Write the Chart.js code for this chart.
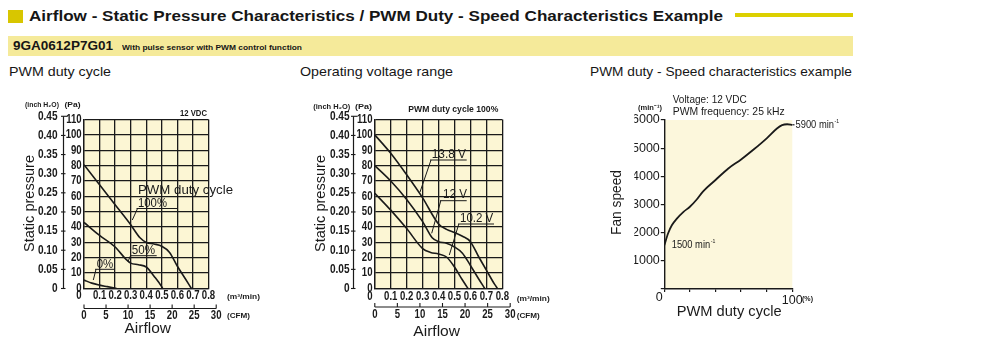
<!DOCTYPE html>
<html><head><meta charset="utf-8">
<script src="https://cdn.jsdelivr.net/npm/chart.js@4.4.1/dist/chart.umd.min.js"></script>
<style>
html,body{margin:0;padding:0;background:#fff;width:1000px;height:342px;overflow:hidden;}
body{position:relative;font-family:"Liberation Sans",Arial,sans-serif;}
canvas{position:absolute;left:0;top:0;}
.t{position:absolute;white-space:nowrap;line-height:1;color:#161616;transform-origin:0 50%;}
</style></head><body>
<div style="position:absolute;left:8px;top:10px;width:15px;height:13px;background:#d8c600"></div>
<div style="position:absolute;left:735px;top:13px;width:118px;height:4px;background:#dcd000"></div>
<div style="position:absolute;left:8px;top:36px;width:845px;height:20px;background:#f5ea9a"></div>
<span class="t" data-x="29" data-cy="16.5" data-s="14.5" data-w="694" style="font-weight:bold">Airflow - Static Pressure Characteristics / PWM Duty - Speed Characteristics Example</span>
<span class="t" data-x="13" data-cy="46" data-s="12.5" data-w="100" style="font-weight:bold">9GA0612P7G01</span>
<span class="t" data-x="122" data-cy="47.5" data-s="7.5" data-w="180" style="font-weight:bold">With pulse sensor with PWM control function</span>
<span class="t" data-x="8.5" data-cy="71.5" data-s="13.5" data-w="102">PWM duty cycle</span>
<span class="t" data-x="300" data-cy="71.5" data-s="13.5" data-w="153">Operating voltage range</span>
<span class="t" data-x="590" data-cy="72" data-s="13.5" data-w="262">PWM duty - Speed characteristics example</span>
<canvas id="c1" width="1000" height="342"></canvas>
<canvas id="c2" width="1000" height="342"></canvas>
<canvas id="c3" width="1000" height="342"></canvas>
<script>
// ---------------- data ----------------
// Chart 1: PWM duty cycle (12 VDC) — [airflow m3/min, static pressure Pa]
const pwm100 = [[0,80.5],[0.1,67.5],[0.2,54.5],[0.3,41.5],[0.36,33],[0.4,30],[0.45,29],[0.5,27.5],[0.55,23.5],[0.6,14.5],[0.65,6.5],[0.69,0]];
const pwm50  = [[0,43],[0.1,34.5],[0.2,27],[0.27,19],[0.3,16.5],[0.35,15.5],[0.4,14],[0.45,8],[0.5,1],[0.505,0]];
const pwm0   = [[0,5.5],[0.05,3.5],[0.1,2.2],[0.15,1.2],[0.21,0]];
// Chart 2: operating voltage range (PWM 100%)
const volt138 = [[0,100],[0.1,88],[0.2,74],[0.3,59],[0.4,42],[0.45,38.5],[0.5,36.5],[0.55,34],[0.6,30.5],[0.65,21],[0.7,12],[0.75,3],[0.77,0]];
const volt120 = [[0,80],[0.1,70],[0.2,58],[0.3,43.5],[0.36,33],[0.4,30.5],[0.45,29.5],[0.5,27],[0.55,23],[0.6,15],[0.65,6.5],[0.69,0]];
const volt102 = [[0,62],[0.1,51],[0.2,39],[0.3,26],[0.35,23.5],[0.4,22.5],[0.45,20.5],[0.5,14],[0.55,5.5],[0.585,0]];
// Chart 3: PWM duty (%) -> fan speed (min-1)
const dutyPct  = [0,3,6,10,15,20,25,30,40,50,60,70,80,88,92,96,100];
const speedRpm = [1550,1980,2270,2510,2740,2920,3160,3450,3870,4280,4600,4960,5350,5700,5820,5850,5830];
// tick labels
const flowLabels = ['0','0.1','0.2','0.3','0.4','0.5','0.6','0.7','0.8'];
const paLabels   = ['0','10','20','30','40','50','60','70','80','90','100','110'];
const inchValues = [0,0.05,0.10,0.15,0.20,0.25,0.30,0.35,0.40,0.45];
const inchLabels = ['0','0.05','0.10','0.15','0.20','0.25','0.30','0.35','0.40','0.45'];
const cfmValues  = [0,5,10,15,20,25,30];
const PA_PER_INCH = 249.089;
const M3MIN_PER_CFM = 0.0283168;

// ---------------- helpers ----------------
const INK = '#1a1a1a';
const FS = '"Liberation Sans",Arial,sans-serif';
const COND = 0.8; // condensed look of the printed tick figures

document.querySelectorAll('.t').forEach(el=>{
  const s=+el.dataset.s;
  el.style.fontSize=s+'px';
  el.style.left=el.dataset.x+'px';
  el.style.top=(+el.dataset.cy-0.5*s)+'px';
  const w0=el.getBoundingClientRect().width;
  el.style.transform='scaleX('+((+el.dataset.w)/w0)+')';
});

function T(ctx,s,x,y,o){
  o=o||{};
  const size=o.size||12, weight=o.weight||'normal', fam=o.fam||FS, align=o.align||'left';
  ctx.save();
  ctx.font=weight+' '+size+'px '+fam;
  ctx.fillStyle=o.color||INK;
  ctx.textBaseline='middle';
  const w=ctx.measureText(s).width;
  const sx=o.w? o.w/w : (o.sx||1);
  ctx.translate(x,y);
  if(o.rot) ctx.rotate(o.rot);
  ctx.scale(sx,1);
  ctx.textAlign=align;
  ctx.fillText(s,0,0);
  ctx.restore();
  return w*sx;
}
function tick(ctx,s,x,y,align){T(ctx,s,x,y,{size:12,weight:'bold',sx:COND,align:align||'center'});}
function minText(ctx,num,x,y,size,sx){
  const w=T(ctx,num+' min',x,y,{size:size,sx:sx});
  T(ctx,'-1',x+w+0.5,y-size*0.3,{size:size*0.55,sx:sx});
}
function L(ctx,x1,y1,x2,y2,w){
  ctx.save();ctx.strokeStyle=INK;ctx.lineWidth=w||1;
  ctx.beginPath();ctx.moveTo(x1,y1);ctx.lineTo(x2,y2);ctx.stroke();ctx.restore();
}
const bgPlugin={id:'bg',beforeDraw(c,a,opts){const r=c.chartArea;c.ctx.save();c.ctx.fillStyle=opts.color;c.ctx.fillRect(r.left,r.top,r.right-r.left,r.bottom-r.top);c.ctx.restore();}};

function series(arr){return {data:arr.map(p=>({x:p[0],y:p[1]})),borderColor:INK,borderWidth:1.6,pointRadius:0,fill:false,cubicInterpolationMode:'monotone'};}

function pqChart(id,area,data,extras){
  const YW=30,XH=20;
  return new Chart(document.getElementById(id),{
    type:'line',
    data:{datasets:data.map(series)},
    options:{
      responsive:false,animation:false,events:[],
      layout:{padding:{left:area.l-YW,right:1000-area.r,top:area.t,bottom:342-area.b-XH}},
      plugins:{legend:{display:false},tooltip:{enabled:false},bg:{color:'#fcf6d4'}},
      scales:{
        x:{type:'linear',min:0,max:0.8,
          ticks:{stepSize:0.1,autoSkip:false,maxRotation:0,display:false},
          grid:{color:INK,lineWidth:1.3,drawTicks:false},
          border:{color:INK,width:1.3},
          afterFit:s=>{s.height=XH;}},
        y:{type:'linear',min:0,max:110,
          ticks:{stepSize:10,autoSkip:false,display:false},
          grid:{color:INK,lineWidth:1.3,drawTicks:false},
          border:{color:INK,width:1.3},
          afterFit:s=>{s.width=YW;}}
      }
    },
    plugins:[bgPlugin,{id:'pqx',afterDraw(c){
      const ctx=c.ctx,xs=c.scales.x,ys=c.scales.y,k=extras;
      // flow (m3/min) tick labels from the x scale ticks
      xs.ticks.forEach((t,i)=>{
        const px=xs.getPixelForValue(t.value);
        tick(ctx,flowLabels[i],i===0?px-5:px,k.flowY);
      });
      // Pa tick labels from the y scale ticks
      ys.ticks.forEach((t,i)=>{
        tick(ctx,paLabels[i],c.chartArea.left-2.3,ys.getPixelForValue(t.value),'right');
      });
      // inch H2O axis
      const yTop=ys.getPixelForValue(inchValues[inchValues.length-1]*PA_PER_INCH);
      L(ctx,k.inchX,yTop,k.inchX,ys.getPixelForValue(0),1.2);
      inchValues.forEach((v,i)=>{
        const py=ys.getPixelForValue(v*PA_PER_INCH);
        L(ctx,k.inchX-2.5,py,k.inchX+(i===inchValues.length-1?4:2),py,1.1);
        T(ctx,inchLabels[i],k.inchR,py,{align:'right',size:12,weight:'bold',sx:0.84});
      });
      // CFM axis
      const x0=xs.getPixelForValue(0),x1=xs.getPixelForValue(cfmValues[cfmValues.length-1]*M3MIN_PER_CFM);
      L(ctx,x0,k.cfmY,x1,k.cfmY,1.2);
      cfmValues.forEach(v=>{
        const px=xs.getPixelForValue(v*M3MIN_PER_CFM);
        L(ctx,px,k.cfmY-4,px,k.cfmY,1.1);
        tick(ctx,String(v),px,k.cfmY+7.5);
      });
      k.draw(ctx);
    }}]
  });
}

// ---- Chart 1 ----
pqChart('c1',{l:84,r:208.5,t:119.5,b:288.5},[pwm100,pwm50,pwm0],{
  inchX:63.5,inchR:57.5,cfmY:308.5,flowY:295.5,
  draw(ctx){
    T(ctx,'(inch H\u2082O)',25,105,{size:7.5,weight:'bold',w:34});
    T(ctx,'(Pa)',64.5,105,{size:7.5,weight:'bold',w:16});
    T(ctx,'12 VDC',180,113.3,{size:8.5,weight:'bold',w:27});
    T(ctx,'PWM duty cycle',138,190,{size:13.5,w:95});
    T(ctx,'100%',138,203,{size:13.5,w:29});
    L(ctx,136.5,208.5,178,208.5,1);L(ctx,137.5,208.5,132.3,220,1);
    T(ctx,'50%',131.7,250,{size:13.5,w:23.3});
    L(ctx,130,255.7,156.7,255.7,1);L(ctx,130.5,255.7,128,261.5,1);
    T(ctx,'0%',96.7,264,{size:13.5,w:16.6});
    L(ctx,95,269.3,115,269.3,1);L(ctx,96,269.3,93.3,280,1);
    T(ctx,'(m\u00b3/min)',227,297.3,{size:7.5,weight:'bold',w:33});
    T(ctx,'(CFM)',227,316,{size:7.5,weight:'bold',w:23});
    T(ctx,'Airflow',124.5,328.5,{size:15,w:46.5});
    T(ctx,'Static pressure',30,203.5,{size:14.5,w:97,align:'center',rot:-Math.PI/2});
  }
});

// ---- Chart 2 ----
pqChart('c2',{l:374.8,r:502.3,t:119.5,b:288.5},[volt138,volt120,volt102],{
  inchX:353.5,inchR:349.5,cfmY:307,flowY:297,
  draw(ctx){
    T(ctx,'(inch H\u2082O)',313.3,106.7,{size:7.5,weight:'bold',w:37});
    T(ctx,'(Pa)',355,106.7,{size:7.5,weight:'bold',w:17});
    T(ctx,'PWM duty cycle 100%',408.3,110,{size:8.5,weight:'bold',w:90});
    T(ctx,'13.8 V',431.7,154,{size:13.5,w:34.3});
    L(ctx,430,160,466.7,160,1);L(ctx,431,160,420,192,1);
    T(ctx,'12 V',443,194.7,{size:13.5,w:24});
    L(ctx,440,200.7,466.7,200.7,1);L(ctx,440.8,200.7,431.7,233.3,1);
    T(ctx,'10.2 V',460,218,{size:13.5,w:33.3});
    L(ctx,458,224,494,224,1);L(ctx,458.8,224,449.3,255,1);
    T(ctx,'(m\u00b3/min)',516.7,299,{size:7.5,weight:'bold',w:33});
    T(ctx,'(CFM)',516.7,315.5,{size:7.5,weight:'bold',w:23});
    T(ctx,'Airflow',413.3,331.7,{size:15,w:46.7});
    T(ctx,'Static pressure',321,203.5,{size:14.5,w:97,align:'center',rot:-Math.PI/2});
  }
});

// ---- Chart 3 ----
(function(){
  const area={l:664.3,r:792.3,t:120,b:289},YW=30,XH=20;
  new Chart(document.getElementById('c3'),{
    type:'line',
    data:{datasets:[{data:dutyPct.map((d,i)=>({x:d,y:speedRpm[i]})),borderColor:INK,borderWidth:1.8,pointRadius:0,fill:false,cubicInterpolationMode:'monotone'}]},
    options:{
      responsive:false,animation:false,events:[],
      layout:{padding:{left:area.l-YW,right:1000-area.r,top:area.t,bottom:342-area.b-XH}},
      plugins:{legend:{display:false},tooltip:{enabled:false},bg:{color:'#fcf7dc'}},
      scales:{
        x:{type:'linear',min:0,max:100,
          ticks:{stepSize:20,autoSkip:false,maxRotation:0,padding:1,color:INK,font:{family:FS,size:12.5},
            callback:v=>v===100?'100':''},
          grid:{display:true,drawOnChartArea:false,drawTicks:true,tickLength:3,color:INK,lineWidth:1.2},
          border:{color:INK,width:1.4},
          afterFit:s=>{s.height=XH;}},
        y:{type:'linear',min:0,max:6000,
          ticks:{stepSize:1000,autoSkip:false,padding:1,color:INK,font:{family:FS,size:12.5},callback:v=>v===0?'':String(v)},
          grid:{display:true,drawOnChartArea:false,drawTicks:true,tickLength:3.5,color:INK,lineWidth:1.2},
          border:{color:INK,width:1.4},
          afterFit:s=>{s.width=YW;}}
      }
    },
    plugins:[bgPlugin,{id:'spx',afterDraw(c){
      const ctx=c.ctx,xs=c.scales.x,ys=c.scales.y;
      T(ctx,'0',xs.getPixelForValue(0)-5,298,{align:'center',size:12.5});
      T(ctx,'(%)',802,299,{size:7.5,weight:'bold',w:11});
      T(ctx,'(min\u207b\u00b9)',638,107.7,{size:7.5,weight:'bold',w:24});
      T(ctx,'Voltage: 12 VDC',672.7,100,{size:10.5,w:74});
      T(ctx,'PWM frequency: 25 kHz',672.7,111.7,{size:10.5,w:112});
      const xe=xs.getPixelForValue(dutyPct[dutyPct.length-1]),ye=ys.getPixelForValue(speedRpm[speedRpm.length-1]);
      L(ctx,xe,ye,794.5,ye,1.2);
      minText(ctx,'5900',795.5,124.5,11,0.85);
      minText(ctx,'1500',671.7,245,11,0.85);
      T(ctx,'PWM duty cycle',676.7,311.7,{size:15,w:105});
      T(ctx,'Fan speed',617,202.5,{size:14.5,w:65,align:'center',rot:-Math.PI/2});
    }}]
  });
})();
</script>
</body></html>
